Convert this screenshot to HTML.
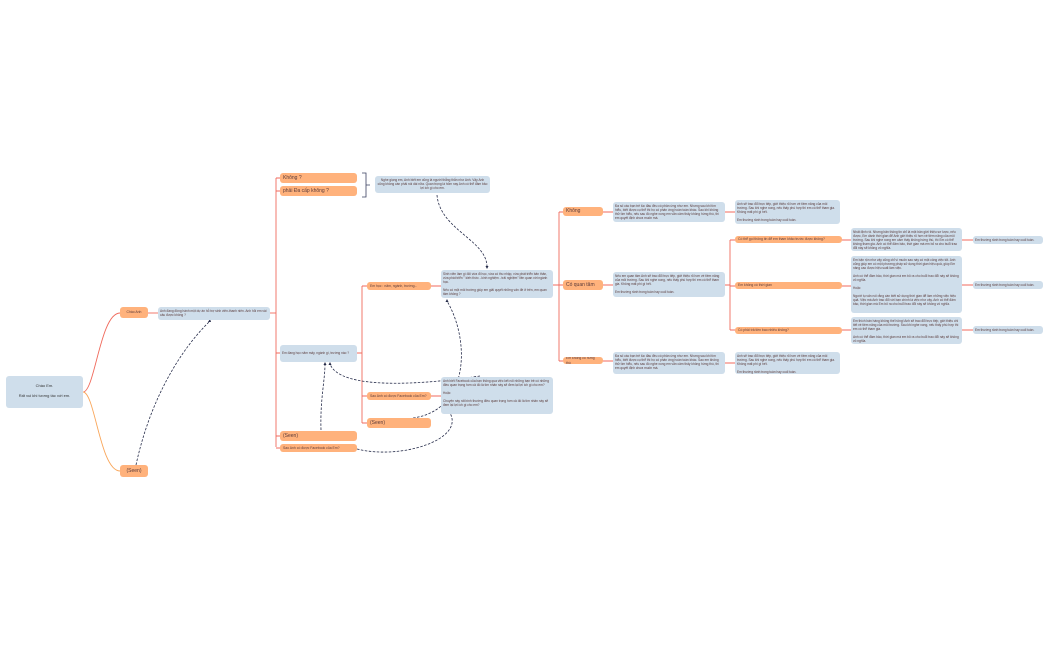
<!DOCTYPE html>
<html><head><meta charset="utf-8"><style>
body{margin:0;width:1049px;height:650px;background:#fff;position:relative;overflow:hidden;font-family:"Liberation Sans",sans-serif}
.n{position:absolute;box-sizing:border-box;border-radius:3px;color:#5a3a3a;overflow:hidden;line-height:1.25}
.b{background:#cfdeeb;font-size:3.2px;padding:1.5px 2px}
.o{background:#ffb27c;font-size:3.4px;padding:0 3px;display:flex;align-items:center}
.o.big{font-size:5px}
svg{position:absolute;left:0;top:0}
</style></head><body>
<svg width="1049" height="650" fill="none">
<g stroke="#f06a5c" stroke-width="0.9">
<path d="M83 392 C95 392,100 313,120 313"/>
<path d="M148 313 H158"/>
<path d="M270 313 H276"/>
<path d="M276 178 V447"/>
<path d="M276 178 H280 M276 191 H280 M276 353 H280 M276 436 H280 M276 448 H280"/>
<path d="M357 353 H362 M362 286 V423 M362 286 H367 M362 396 H367 M362 423 H367"/>
<path d="M431 286 H441 M431 396 H441"/>
<path d="M553 285 H559 M559 212 V361 M559 212 H563 M559 285 H563 M559 361 H563"/>
<path d="M603 212 H613 M603 285 H613 M603 361 H613"/>
<path d="M725 212 H735 M725 363 H735 M725 285 H730 M730 240 V330 M730 240 H735 M730 286 H735 M730 330 H735"/>
<path d="M842 240 H851 M842 286 H851 M842 330 H851 M962 240 H973 M962 285 H973 M962 330 H973"/>
</g>
<path d="M83 392 C95 392,100 471,120 471" stroke="#f9a65a" stroke-width="0.9"/>
<path d="M362 173 H366 V197 H362 M366 185 H370" stroke="#3a4060" stroke-width="0.8"/>
<g stroke="#262c4a" stroke-width="0.8" stroke-dasharray="2.5,1.5">
<path d="M136 465 C150 400,180 350,210 321"/>
<path d="M437 195 C440 230,487 240,487 267"/>
<path d="M413 418 C470 410,470 340,447 301"/>
<path d="M480 376 C420 385,340 390,330 364"/>
<path d="M321 430 C320 400,325 380,325 364"/>
<path d="M357 449 C400 460,465 440,450 413"/>
</g>
<g fill="#262c4a">
<path d="M210 319 l-2 3 l3 0z"/><path d="M487 269 l-1.5 -3 l3 0z"/><path d="M447 299 l-1.5 3 l3 0z"/>
<path d="M330 362 l-1.5 3 l3 0z"/><path d="M325 362 l-1.5 3 l3 0z"/><path d="M449 411 l-1 3 l3 -1z"/>
</g>
</svg>
<div class="n b" style="left:6px;top:376px;width:77px;height:32px;font-size:4px;text-align:center;padding-top:7px;color:#333">Chào Em.<br><br>Rất vui khi tương tác với em.</div>
<div class="n o" style="left:120px;top:307px;width:28px;height:11px;justify-content:center">Chào Anh</div>
<div class="n o big" style="left:120px;top:465px;width:28px;height:12px;justify-content:center">(Seen)</div>
<div class="n b" style="left:158px;top:307px;width:112px;height:13px">Anh đang đồng hành một dự án hỗ trợ sinh viên-thanh niên. Anh hỏi em vài câu được không ?</div>
<div class="n o big" style="left:280px;top:173px;width:77px;height:10px">Không ?</div>
<div class="n o big" style="left:280px;top:186px;width:77px;height:10px">phải Đa cấp không ?</div>
<div class="n b" style="left:375px;top:176px;width:115px;height:17px;text-align:center">Nghe giọng em, Anh biết em cũng là người thẳng thắn như Anh. Vậy Anh cũng không cần phải nói dài nữa. Quan trọng là hôm nay Anh có thể đảm bảo lợi ích gì cho em.</div>
<div class="n b" style="left:280px;top:345px;width:77px;height:17px;padding-top:6px">Em đang học năm mấy, ngành gì, trường nào ?</div>
<div class="n o big" style="left:280px;top:431px;width:77px;height:10px">(Seen)</div>
<div class="n o" style="left:280px;top:444px;width:77px;height:8px">Sao Anh có được Facebook của Em?</div>
<div class="n o" style="left:367px;top:282px;width:64px;height:8px">Em học : năm, ngành, trường...</div>
<div class="n o" style="left:367px;top:392px;width:64px;height:8px">Sao Anh có được Facebook của Em?</div>
<div class="n o big" style="left:367px;top:418px;width:64px;height:10px">(Seen)</div>
<div class="n b" style="left:441px;top:270px;width:112px;height:28px">Sinh viên làm gì đôi vừa đi học, vừa có thu nhập, vừa phát triển bản thân, vừa phát triển " kiến thức - kinh nghiệm - trải nghiệm" liên quan với ngành học.<br><br>Nếu có một môi trường giúp em giải quyết những vấn đề ở trên, em quan tâm không ?</div>
<div class="n b" style="left:441px;top:377px;width:112px;height:37px">Anh biết Facebook của bạn thông qua việc kết nối những bạn trẻ có những điều quan trọng hơn cả đó là tìm nhân này sẽ đem lại lợi ích gì cho em?<br><br>Hoặc<br><br>Chuyện này rất bình thường điều quan trọng hơn cả đó là tìm nhân này sẽ đem lại lợi ích gì cho em?</div>
<div class="n o big" style="left:563px;top:207px;width:40px;height:9px">Không</div>
<div class="n o big" style="left:563px;top:280px;width:40px;height:10px">Có quan tâm</div>
<div class="n o" style="left:563px;top:357px;width:40px;height:7px">Em không có hứng thú</div>
<div class="n b" style="left:613px;top:202px;width:112px;height:20px">Đa số các bạn trẻ lúc đầu đều có phản ứng như em. Nhưng sau khi tìm hiểu, biết được cụ thể thì họ có phản ứng hoàn toàn khác. Sau khi không thử tìm hiểu, nếu sau đó nghe xong em vẫn cảm thấy không hứng thú, thì em quyết định chưa muốn mà.</div>
<div class="n b" style="left:613px;top:272px;width:112px;height:25px">Nếu em quan tâm Anh sẽ trao đổi trực tiếp, giới thiệu rõ hơn về tiềm năng của môi trường. Sau khi nghe xong, nếu thấy phù hợp thì em có thể tham gia. Không mất phí gì hết.<br><br>Em thường rảnh trong tuần hay cuối tuần.</div>
<div class="n b" style="left:613px;top:352px;width:112px;height:22px">Đa số các bạn trẻ lúc đầu đều có phản ứng như em. Nhưng sau khi tìm hiểu, biết được cụ thể thì họ có phản ứng hoàn toàn khác. Sao em không thử tìm hiểu, nếu sau đó nghe xong em vẫn cảm thấy không hứng thú, thì em quyết định chưa muốn mà.</div>
<div class="n b" style="left:735px;top:200px;width:105px;height:24px">Anh sẽ trao đổi trực tiếp, giới thiệu rõ hơn về tiềm năng của môi trường. Sau khi nghe xong, nếu thấy phù hợp thì em có thể tham gia. Không mất phí gì hết.<br><br>Em thường rảnh trong tuần hay cuối tuần.</div>
<div class="n b" style="left:735px;top:352px;width:105px;height:22px">Anh sẽ trao đổi trực tiếp, giới thiệu rõ hơn về tiềm năng của môi trường. Sau khi nghe xong, nếu thấy phù hợp thì em có thể tham gia. Không mất phí gì hết.<br><br>Em thường rảnh trong tuần hay cuối tuần.</div>
<div class="n o" style="left:735px;top:236px;width:107px;height:7px">Có thể gọi thông tin để em tham khảo trước được không?</div>
<div class="n o" style="left:735px;top:282px;width:107px;height:7px">Em không có thời gian</div>
<div class="n o" style="left:735px;top:327px;width:107px;height:7px">Có phải trả tiền bao nhiêu không?</div>
<div class="n b" style="left:851px;top:228px;width:111px;height:23px">Nhất định rồi. Nhưng bản thông tin chỉ là một bản giới thiệu sơ lược, nếu được, Em dành thời gian để Anh giới thiệu rõ hơn về tiềm năng của môi trường. Sau khi nghe xong em cảm thấy không hứng thú, thì Em có thể không tham gia. Anh có thể đảm bảo, thời gian mà em bỏ ra cho buổi trao đổi này sẽ không vô nghĩa.</div>
<div class="n b" style="left:851px;top:256px;width:111px;height:57px">Em bận rộn như vậy cũng chỉ vì muốn sau này có một công việc tốt. Anh cũng giúp em có một phương pháp sử dụng thời gian hiệu quả, giúp Em nâng cao được hiệu suất làm việc.<br><br>Anh có thể đảm bảo, thời gian mà em bỏ ra cho buổi trao đổi này sẽ không vô nghĩa.<br><br>Hoặc<br><br>Người tụ vấn nói rằng cần biết sử dụng thời gian để làm những việc hiệu quả. Việc mà Anh trao đổi với bạn chính là việc như vậy. Anh có thể đảm bảo, thời gian mà Em bỏ ra cho buổi trao đổi này sẽ không vô nghĩa.</div>
<div class="n b" style="left:851px;top:317px;width:111px;height:27px">Em thích bán hàng không thế hông! Anh sẽ trao đổi trực tiếp, giới thiệu chi tiết về tiềm năng của môi trường. Sau khi nghe xong, nếu thấy phù hợp thì em có thể tham gia.<br><br>Anh có thể đảm bảo, thời gian mà em bỏ ra cho buổi trao đổi này sẽ không vô nghĩa.</div>
<div class="n b" style="left:973px;top:236px;width:70px;height:8px">Em thường rảnh trong tuần hay cuối tuần.</div>
<div class="n b" style="left:973px;top:281px;width:70px;height:8px">Em thường rảnh trong tuần hay cuối tuần.</div>
<div class="n b" style="left:973px;top:326px;width:70px;height:8px">Em thường rảnh trong tuần hay cuối tuần.</div>
</body></html>
